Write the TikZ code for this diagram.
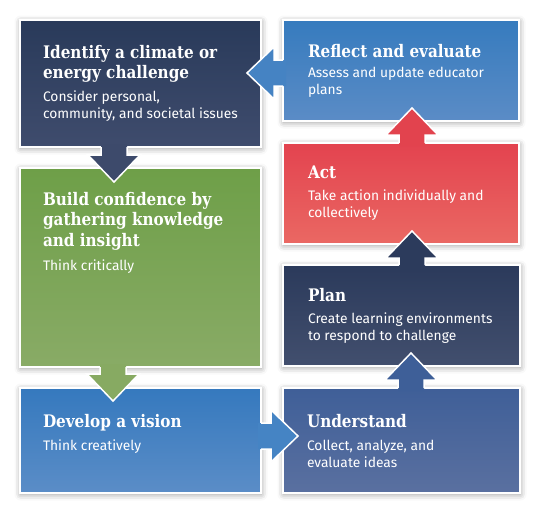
\documentclass[tikz,border=0pt]{standalone}
\usepackage{fontspec}
\usetikzlibrary{calc,shadows.blur}
\newfontfamily\titlefont{DejaVu Serif}[FakeStretch=0.88]
\newfontfamily\subfont{Fira Sans}
\definecolor{idTop}{HTML}{293A5A}
\definecolor{idBot}{HTML}{3F4C6D}
\definecolor{grTop}{HTML}{6E9F48}
\definecolor{grBot}{HTML}{89AB66}
\definecolor{dvTop}{HTML}{3579BE}
\definecolor{dvBot}{HTML}{5B8DC7}
\definecolor{unTop}{HTML}{3F5F98}
\definecolor{unBot}{HTML}{5A70A0}
\definecolor{plTop}{HTML}{2B3A5B}
\definecolor{plBot}{HTML}{424F6E}
\definecolor{acTop}{HTML}{E3434F}
\definecolor{acBot}{HTML}{EA6863}
\definecolor{rfTop}{HTML}{367BBE}
\definecolor{rfBot}{HTML}{5B8CC6}
\definecolor{arA}{HTML}{3D4A6B}
\definecolor{arB}{HTML}{87AA62}
\definecolor{arC}{HTML}{4584C4}
\definecolor{arD}{HTML}{3E5F98}
\definecolor{arE}{HTML}{2C3B5C}
\definecolor{arF}{HTML}{E2434E}
\definecolor{arG}{HTML}{4583C3}
\tikzset{
  box/.style={rectangle, draw=white, line width=1.6pt, anchor=north west,
    inner sep=0pt, outer sep=0pt,
    blur shadow={shadow xshift=0.5pt, shadow yshift=-1.5pt, shadow blur radius=6pt, shadow opacity=40}},
  ttl/.style={anchor=north west, inner sep=0pt, outer sep=0pt, text=white, align=left,
    font=\titlefont\bfseries\fontsize{17.3}{20.7}\selectfont},
  sub/.style={anchor=north west, inner sep=0pt, outer sep=0pt, text=white, align=left,
    font=\subfont\fontsize{13.8}{17.3}\selectfont},
  arrowline/.style={draw=white, line width=1.5pt, line join=miter}
}
% #1 colour, #2 start point on the source edge, #3 angle, #4 length to tip
\newcommand\blockarrow[4]{%
  \begin{scope}[shift={#2}, rotate=#3]
    \fill[#1] (-3,-13) -- (#4-27,-13) -- (#4-27,-26) -- (#4,0) -- (#4-27,26) -- (#4-27,13) -- (-3,13) -- cycle;
    \draw[arrowline] (0,-13) -- (#4-27,-13) -- (#4-27,-26) -- (#4,0) -- (#4-27,26) -- (#4-27,13) -- (0,13);
  \end{scope}}
\begin{document}
\begin{tikzpicture}[x=1pt,y=-1pt]
\useasboundingbox (0,0) rectangle (546,515);
% boxes
\node[box, top color=idTop, bottom color=idBot, minimum width=241pt, minimum height=127pt] (identify) at (20,20) {};
\node[box, top color=grTop, bottom color=grBot, minimum width=241pt, minimum height=199pt] (build) at (20,168) {};
\node[box, top color=dvTop, bottom color=dvBot, minimum width=241pt, minimum height=105pt] (develop) at (20,388) {};
\node[box, top color=rfTop, bottom color=rfBot, minimum width=236pt, minimum height=101pt] (reflect) at (283,20) {};
\node[box, top color=acTop, bottom color=acBot, minimum width=236pt, minimum height=101pt] (act) at (283,143) {};
\node[box, top color=plTop, bottom color=plBot, minimum width=237pt, minimum height=101pt] (plan) at (283,265) {};
\node[box, top color=unTop, bottom color=unBot, minimum width=237pt, minimum height=105pt] (understand) at (283,388) {};
% arrows
\blockarrow{arA}{($(identify.south west)+(94,0)$)}{-90}{35}
\blockarrow{arB}{($(build.south west)+(93,0)$)}{-90}{34}
\blockarrow{arC}{($(develop.east)+(0,-4.5)$)}{0}{37}
\blockarrow{arD}{($(understand.north west)+(128,0)$)}{90}{35}
\blockarrow{arE}{($(plan.north west)+(129,0)$)}{90}{34}
\blockarrow{arF}{($(act.north west)+(129,0)$)}{90}{35}
\blockarrow{arG}{($(reflect.west)+(0,2.5)$)}{180}{36}
% texts
\node[ttl] (identifyT) at ($(identify.north west)+(23,24)$) {\rule{0pt}{14pt}Identify a climate or\\energy challenge};
\node[sub] (identifyS) at ($(identify.north west)+(23,69)$) {\rule{0pt}{12pt}Consider personal,\\community, and societal issues};
\node[ttl] (buildT) at ($(build.north west)+(23,23)$) {\rule{0pt}{14pt}Build confidence by\\gathering knowledge\\and insight};
\node[sub] (buildS) at ($(build.north west)+(23,90)$) {\rule{0pt}{12pt}Think critically};
\node[ttl] (developT) at ($(develop.north west)+(23,25)$) {\rule{0pt}{14pt}Develop a vision};
\node[sub] (developS) at ($(develop.north west)+(23,50)$) {\rule{0pt}{12pt}Think creatively};
\node[ttl] (reflectT) at ($(reflect.north west)+(25,23)$) {\rule{0pt}{14pt}Reflect and evaluate};
\node[sub] (reflectS) at ($(reflect.north west)+(25,45)$) {\rule{0pt}{12pt}Assess and update educator\\plans};
\node[ttl] (actT) at ($(act.north west)+(25,21)$) {\rule{0pt}{14pt}Act};
\node[sub] (actS) at ($(act.north west)+(25,45)$) {\rule{0pt}{12pt}Take action individually and\\collectively};
\node[ttl] (planT) at ($(plan.north west)+(25,22)$) {\rule{0pt}{14pt}Plan};
\node[sub] (planS) at ($(plan.north west)+(25,46)$) {\rule{0pt}{12pt}Create learning environments\\to respond to challenge};
\node[ttl] (understandT) at ($(understand.north west)+(24,25)$) {\rule{0pt}{14pt}Understand};
\node[sub] (understandS) at ($(understand.north west)+(24,50)$) {\rule{0pt}{12pt}Collect, analyze, and\\evaluate ideas};
\end{tikzpicture}
\end{document}
